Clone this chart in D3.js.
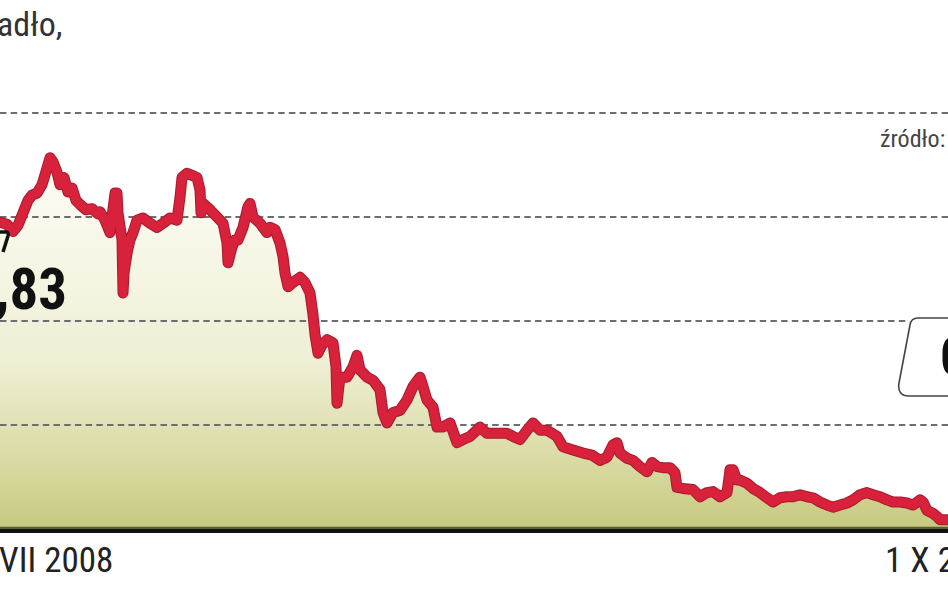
<!DOCTYPE html>
<html><head><meta charset="utf-8">
<script src="https://cdn.jsdelivr.net/npm/d3@7/dist/d3.min.js"></script>
<style>html,body{margin:0;padding:0;background:#fff;overflow:hidden}</style>
</head><body><svg id="c" width="948" height="593"></svg>
<script>
// session index (days from start of visible window)
const days = [0,7,13,18,23,28,32,37,42,47,50,53,57,60,64,68,72,76,80,86,92,98,100,105,110,115,117,118,122,123,124,127,130,133,137,143,150,157,163,170,177,180,182,187,192,197,200,201,203,210,217,223,227,228,232,235,238,243,248,250,253,260,267,270,275,280,283,285,288,293,300,305,310,313,315,318,322,327,333,336,337,340,347,353,357,360,367,373,380,383,387,393,400,407,413,420,423,427,433,437,443,450,457,463,470,480,487,497,507,513,520,527,533,540,547,557,563,573,583,592,600,607,613,617,620,627,633,640,647,652,657,663,670,675,677,683,693,700,707,713,720,727,730,733,737,740,747,753,760,767,773,780,787,793,800,807,813,820,827,833,840,847,853,860,867,873,880,887,893,900,907,913,920,923,927,933,937,940,948];
const prices = [2.95,2.93,2.86,2.92,3.04,3.16,3.21,3.23,3.31,3.47,3.57,3.53,3.43,3.31,3.38,3.24,3.28,3.16,3.12,3.07,3.08,3.03,3.05,2.97,2.85,3.23,3.23,3.04,2.78,2.27,2.46,2.65,2.78,2.85,2.97,2.99,2.94,2.90,2.94,2.99,2.97,3.19,3.38,3.42,3.40,3.38,3.26,3.04,3.13,3.07,3.00,2.94,2.75,2.56,2.71,2.78,2.78,2.90,3.10,3.13,3.00,2.94,2.85,2.90,2.88,2.75,2.62,2.46,2.33,2.37,2.42,2.37,2.27,2.06,1.87,1.69,1.77,1.82,1.79,1.56,1.21,1.46,1.46,1.56,1.67,1.53,1.46,1.43,1.34,1.12,1.02,1.12,1.14,1.24,1.37,1.46,1.37,1.24,1.17,0.98,0.98,1.02,0.83,0.86,0.89,0.98,0.92,0.92,0.92,0.89,0.86,0.95,1.02,0.95,0.95,0.89,0.79,0.76,0.73,0.71,0.66,0.69,0.81,0.83,0.73,0.68,0.66,0.60,0.55,0.64,0.60,0.59,0.59,0.54,0.40,0.39,0.38,0.31,0.35,0.36,0.31,0.35,0.57,0.57,0.47,0.47,0.44,0.39,0.35,0.30,0.26,0.30,0.31,0.31,0.33,0.31,0.30,0.26,0.23,0.21,0.23,0.25,0.28,0.33,0.35,0.33,0.31,0.28,0.26,0.26,0.25,0.23,0.28,0.26,0.18,0.15,0.12,0.09,0.09];
const gridValues = [1, 2, 3, 4];
const dateLabels = ["VII 2008", "1 X 2"];
const dateLabelDays = [-1, 885];
const startLabel = "2,83";
const endLabel = "0,09";
const headText = "adło,";
const sourceText = "źródło:";

const W = 948, H = 593;
const svg = d3.select("#c");
const x = d3.scaleLinear().domain([0, 948]).range([0, W]);
const y = d3.scaleLinear().domain([0, 4]).range([529, 113]);
const data = days.map((d, i) => ({d, v: prices[i]}));
const NARROW = "'Liberation Sans Narrow','Arial Narrow','Roboto Condensed',sans-serif";

// gradient
const defs = svg.append("defs");
const g = defs.append("linearGradient").attr("id", "fillg")
  .attr("gradientUnits", "userSpaceOnUse").attr("x1", 0).attr("x2", 0)
  .attr("y1", y(3.6)).attr("y2", y(0));
g.append("stop").attr("offset", "0%").attr("stop-color", "#fdfdf7");
g.append("stop").attr("offset", "55%").attr("stop-color", "#efefd5");
g.append("stop").attr("offset", "82%").attr("stop-color", "#d9daa3");
g.append("stop").attr("offset", "100%").attr("stop-color", "#c6c97e");

// area
svg.append("path").datum(data)
  .attr("fill", "url(#fillg)")
  .attr("d", d3.area().x(p => x(p.d)).y0(y(0)).y1(p => y(p.v)));

// gridlines
svg.append("g").selectAll("line").data(gridValues).join("line")
  .attr("x1", 0)
  .attr("x2", v => v === 2 ? 907 : W)
  .attr("y1", v => y(v)).attr("y2", v => y(v))
  .attr("stroke", "#6e6e6e").attr("stroke-width", 2)
  .attr("stroke-dasharray", "6.5,4.2");

// line
const line = d3.line().x(p => x(p.d)).y(p => y(p.v));
svg.append("path").datum(data)
  .attr("fill", "none").attr("stroke", "#a81a2c").attr("stroke-width", 11)
  .attr("stroke-linejoin", "round").attr("stroke-linecap", "round").attr("d", line);
svg.append("path").datum(data)
  .attr("fill", "none").attr("stroke", "#d8213b").attr("stroke-width", 9)
  .attr("stroke-linejoin", "round").attr("stroke-linecap", "round").attr("d", line);

// baseline
svg.append("line").attr("x1", 0).attr("x2", W)
  .attr("y1", y(0) - 1.5).attr("y2", y(0) - 1.5)
  .attr("stroke", "#5d5f30").attr("stroke-width", 1.5);
svg.append("line").attr("x1", 0).attr("x2", W)
  .attr("y1", y(0) + 1.8).attr("y2", y(0) + 1.8)
  .attr("stroke", "#111").attr("stroke-width", 4.5);

// header fragment
svg.append("text").attr("x", -3).attr("y", 36)
  .attr("font-family", NARROW).attr("font-size", 34).attr("fill", "#333")
  .text(headText);
// source
svg.append("text").attr("x", 880).attr("y", 147)
  .attr("font-family", NARROW).attr("font-size", 24).attr("fill", "#444")
  .text(sourceText);

// left value label fragment
svg.append("path").attr("d", "M0,232 L6,232 Q9,232 8,236 L3,252")
  .attr("fill", "none").attr("stroke", "#111").attr("stroke-width", 3.5);
svg.append("text").attr("x", 67).attr("y", 309).attr("text-anchor", "end")
  .attr("font-family", NARROW).attr("font-weight", "bold").attr("font-size", 57).attr("fill", "#111")
  .text(startLabel);

// right value box
svg.append("path").attr("d", "M960,318 L918,318 Q911,318 910,325 L899,383 Q897,396 909,396 L960,396")
  .attr("fill", "#fff").attr("stroke", "#444").attr("stroke-width", 1.6);
svg.append("text").attr("x", 940).attr("y", 375)
  .attr("font-family", NARROW).attr("font-weight", "bold").attr("font-size", 54).attr("fill", "#111")
  .text(endLabel);

// date labels
svg.append("g").selectAll("text").data(dateLabels).join("text")
  .attr("x", (t, i) => x(dateLabelDays[i])).attr("y", 572)
  .attr("font-family", NARROW).attr("font-size", 35).attr("fill", "#222")
  .text(t => t);
</script>
</body></html>
